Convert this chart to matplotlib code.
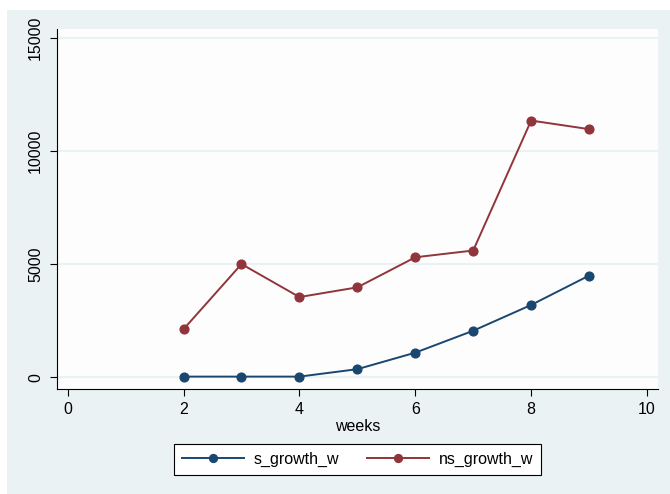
import matplotlib
matplotlib.use("Agg")
import matplotlib.pyplot as plt
from matplotlib.patches import Rectangle

weeks = [2, 3, 4, 5, 6, 7, 8, 9]
s_growth_w = [30, 30, 30, 360, 1090, 2060, 3200, 4500]
ns_growth_w = [2130, 5010, 3550, 3980, 5310, 5610, 11360, 10980]
x_ticks = [0, 2, 4, 6, 8, 10]
y_ticks = [0, 5000, 10000, 15000]

plt.rcParams['font.family'] = ['Liberation Sans', 'DejaVu Sans']

W, H = 670, 494
fig = plt.figure(figsize=(W / 100, H / 100), dpi=100, facecolor='white')
fig.patches.append(Rectangle((7 / W, 0), 1 - 7 / W, (H - 10) / H,
                             transform=fig.transFigure, facecolor='#eaf2f3',
                             edgecolor='none', zorder=-10))

ax = fig.add_axes([57 / W, (H - 389) / H, (658 - 57) / W, (389 - 29) / H])
ax.set_facecolor('#fdfdfd')

blue = '#1a476f'
red = '#90353b'
l1, = ax.plot(weeks, s_growth_w, color=blue, lw=1.4, marker='o', ms=6.3, label='s_growth_w', zorder=3)
l2, = ax.plot(weeks, ns_growth_w, color=red, lw=1.4, marker='o', ms=6.3, label='ns_growth_w', zorder=3)

ax.set_xlim(-0.185, 10.19)
ax.set_ylim(-518, 15411)
ax.set_xticks(x_ticks)
ax.set_yticks(y_ticks)
ax.set_yticklabels([str(v) for v in y_ticks], rotation=90, va='center')
ax.tick_params(axis='both', direction='out', length=5, width=0.8, labelsize=11.5, colors='black')
ax.tick_params(axis='x', pad=4)
ax.tick_params(axis='y', pad=5)
ax.grid(axis='y', color='#eaf2f3', lw=1.5, zorder=0)
ax.set_axisbelow(True)
for s in ['top', 'right']:
    ax.spines[s].set_visible(False)
for s in ['left', 'bottom']:
    ax.spines[s].set_color('black')
    ax.spines[s].set_linewidth(0.8)

ax.set_xlabel('weeks', fontsize=11.5, labelpad=2)

leg = fig.legend(handles=[l1, l2], loc='center', bbox_to_anchor=(357.5 / W, (H - 459.5) / H),
                 ncol=2, frameon=True, fancybox=False, fontsize=11.5, markerscale=0.9,
                 handlelength=3.9, columnspacing=1.7, borderpad=0.5, handletextpad=0.6,
                 borderaxespad=0.3,
                 edgecolor='black', facecolor='white', framealpha=1)
leg.get_frame().set_linewidth(0.8)

fig.savefig('out.png', dpi=100, facecolor='white')
